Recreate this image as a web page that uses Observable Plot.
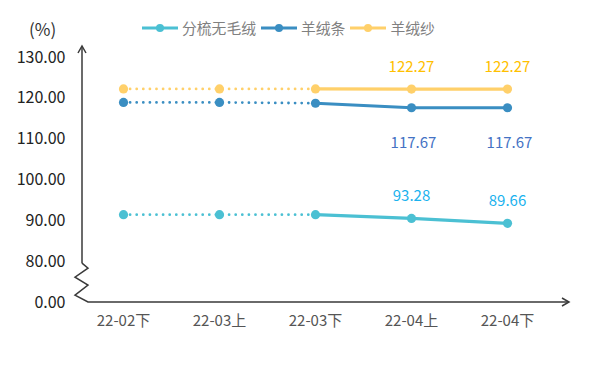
<!DOCTYPE html>
<html><head><meta charset="utf-8">
<script src="https://cdn.jsdelivr.net/npm/d3@7"></script>
<script src="https://cdn.jsdelivr.net/npm/@observablehq/plot@0.6"></script>
<style>
html,body{margin:0;padding:0;background:#fff;}
#wrap{position:relative;width:600px;height:373px;font-family:"Noto Sans CJK SC","Noto Sans",sans-serif;}
#legend{position:absolute;top:17px;left:142px;display:flex;align-items:center;font-size:14.8px;color:#808080;white-space:nowrap;}
#legend .item{display:flex;align-items:center;margin-right:5px;}
#legend svg{margin-right:4px;}
#unit{position:absolute;left:29px;top:16px;font-size:17px;color:#333;}
</style></head>
<body><div id="wrap"><div id="unit">(%)</div><div id="legend"></div></div>
<script>
const categories = ["22-02下","22-03上","22-03下","22-04上","22-04下"];
const seriesNames = ["分梳无毛绒","羊绒条","羊绒纱"];
const fenshuValues = [91.5, 91.5, 91.5, 90.6, 89.4];
const tiaoValues = [119.0, 119.0, 118.8, 117.7, 117.7];
const shaValues = [122.3, 122.3, 122.3, 122.27, 122.27];
const fenshuLabels = ["", "", "", "93.28", "89.66"];
const tiaoLabels = ["", "", "", "117.67", "117.67"];
const shaLabels = ["", "", "", "122.27", "122.27"];
const yTicks = [70, 80, 90, 100, 110, 120, 130];
const yTickLabels = ["0.00", "80.00", "90.00", "100.00", "110.00", "120.00", "130.00"];

const lineColors = {"分梳无毛绒":"#4BC0D3","羊绒条":"#3A8EC2","羊绒纱":"#FFD06A"};
const labelColors = {"分梳无毛绒":"#1AB2EE","羊绒条":"#4472C4","羊绒纱":"#FFC000"};

const valuesBy = {"分梳无毛绒":fenshuValues,"羊绒条":tiaoValues,"羊绒纱":shaValues};
const labelsBy = {"分梳无毛绒":fenshuLabels,"羊绒条":tiaoLabels,"羊绒纱":shaLabels};
const rows = [];
for (const s of seriesNames) categories.forEach((c,i)=>rows.push({series:s,cat:c,i,value:valuesBy[s][i],label:labelsBy[s][i]}));

const font = '"Noto Sans CJK SC","Noto Sans",sans-serif';
const chart = Plot.plot({
  width:600, height:373,
  marginTop:57, marginBottom:71, marginLeft:75, marginRight:45,
  style:{fontFamily:font, background:"transparent", overflow:"visible"},
  x:{type:"point", domain:categories, padding:0.5, label:null},
  y:{domain:[70,130], label:null},
  marks:[
    Plot.axisX({tickSize:0, tickPadding:13, fontSize:15, fill:"#555", label:null}),
    Plot.axisY({ticks:yTicks, tickFormat:d=>yTickLabels[yTicks.indexOf(d)], tickSize:0, tickPadding:10, fontSize:16, fill:"#222", label:null}),
    Plot.line(rows.filter(d=>d.i<=2), {x:"cat", y:"value", z:"series", stroke:d=>lineColors[d.series], strokeWidth:2.8, strokeDasharray:"0 6.6", strokeLinecap:"round"}),
    Plot.line(rows.filter(d=>d.i>=2), {x:"cat", y:"value", z:"series", stroke:d=>lineColors[d.series], strokeWidth:3.2}),
    Plot.dot(rows, {x:"cat", y:"value", r:4.6, fill:d=>lineColors[d.series]}),
    Plot.text(rows.filter(d=>d.label && d.series==="羊绒纱"), {x:"cat", y:"value", text:"label", dy:-22, fill:d=>labelColors[d.series], fontSize:15}),
    Plot.text(rows.filter(d=>d.label && d.series==="羊绒条"), {x:"cat", y:"value", text:"label", dy:35, dx:2, fill:d=>labelColors[d.series], fontSize:15}),
    Plot.text(rows.filter(d=>d.label && d.series==="分梳无毛绒"), {x:"cat", y:"value", text:"label", dy:-22, fill:d=>labelColors[d.series], fontSize:15})
  ]
});
chart.style.position="absolute"; chart.style.left="0"; chart.style.top="0";
document.getElementById("wrap").appendChild(chart);

// axis decorations (arrows and break)
const svg = d3.select(chart);
const ys = chart.scale("y");
const y0 = ys.apply(70), y80 = ys.apply(80);
const ax = 82;
const g = svg.append("g").attr("fill","none").attr("stroke","#3a3a3a").attr("stroke-width",1.5);
g.append("path").attr("d",`M${ax},${y80+2} L${ax},47`);
g.append("path").attr("d",`M${ax-4},53 L${ax},46 L${ax+4},53`);
g.append("path").attr("d",`M${ax},${y80+2} L${ax+6},${y80+7} L${ax-7},${y80+16} L${ax+6},${y80+24} L${ax-7},${y80+34} L${ax+6},${y0} L569,${y0}`);
g.append("path").attr("d",`M562,${y0-4} L569,${y0} L562,${y0+4}`);

// legend
const leg = document.getElementById("legend");
seriesNames.forEach(s=>{
  const it = document.createElement("span"); it.className="item";
  it.innerHTML = `<svg width="36" height="10"><line x1="0" y1="5" x2="36" y2="5" stroke="${lineColors[s]}" stroke-width="3"/><circle cx="18" cy="5" r="4" fill="${lineColors[s]}"/></svg><span>${s}</span>`;
  leg.appendChild(it);
});
</script></body></html>
